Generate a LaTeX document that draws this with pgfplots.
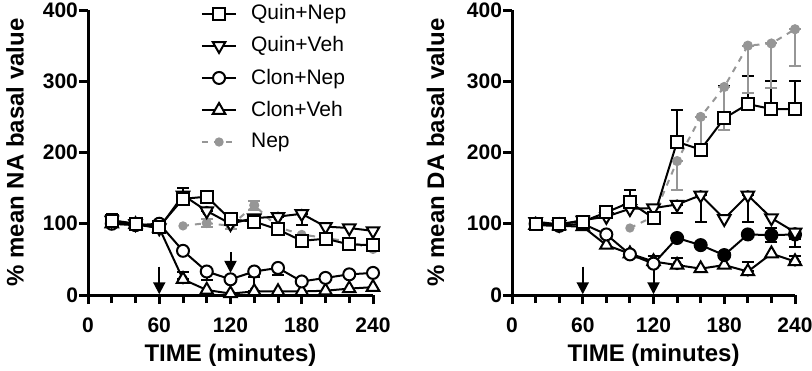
\documentclass[border=0pt]{standalone}
\usepackage{fontspec}
\setmainfont{Liberation Sans}
\usepackage{pgfplots}
\usepackage{pgfplotstable}
\pgfplotsset{compat=1.18}
\usetikzlibrary{arrows.meta}
\definecolor{nepgray}{RGB}{150,150,150}

% ---------- left panel (NA) ----------
\pgfplotstableread{
x y
20 104
40 100
60 96
80 135
100 138
120 106
140 103
160 92
180 76
200 79
220 71
240 70
}\LQN
\pgfplotstableread{
x y ep em
20 104 10 0
80 135 15 0
100 138 5 0
}\LQNe
\pgfplotstableread{
x y
20 105
40 100
60 94
80 140
100 118
120 100
140 108
160 110
180 114
200 96
220 94
240 90
}\LQV
\pgfplotstableread{
x y ep em
100 118 0 12
160 110 0 10
180 114 0 16
}\LQVe
\pgfplotstableread{
x y
20 100
40 98
60 100
80 62
100 33
120 22
140 33
160 38
180 19
200 24
220 29
240 31
}\LCN
\pgfplotstableread{
x y ep em
100 33 0 12
160 38 0 10
}\LCNe
\pgfplotstableread{
x y
20 100
40 99
60 94
80 22
100 7
120 2
140 5
160 5
180 5
200 6
220 9
240 11
}\LCV
\pgfplotstableread{
x y ep em
80 22 10 0
140 5 20 0
}\LCVe
\pgfplotstableread{
x y
80 97
100 101
120 97
140 126
160 95
180 85
200 80
220 75
240 64
}\LNep
\pgfplotstableread{
x y ep em
100 101 6 6
120 97 5 5
140 126 6 6
}\LNepe

% ---------- right panel (DA) ----------
\pgfplotstableread{
x y
20 100
40 100
60 103
80 116
100 130
120 108
140 215
160 204
180 248
200 268
220 261
240 261
}\RQN
\pgfplotstableread{
x y ep em
100 130 18 0
140 215 45 0
180 248 45 0
200 268 39 0
220 261 39 0
240 261 40 0
}\RQNe
\pgfplotstableread{
x y
20 103
40 99
60 105
80 110
100 121
120 122
140 127
160 140
180 107
200 140
220 108
240 88
}\RQV
\pgfplotstableread{
x y ep em
140 127 0 12
160 140 0 37
200 140 0 37
240 88 0 10
}\RQVe
\pgfplotstableread{
x y
20 100
40 97
60 100
80 85
100 57
120 44
140 80
160 70
180 56
200 85
220 84
240 85
}\RCN
\pgfplotstableread{
x y
140 80
160 70
180 56
200 85
220 84
240 85
}\RCNf
\pgfplotstableread{
x y ep em
220 84 10 10
240 85 0 18
}\RCNe
\pgfplotstableread{
x y
20 98
40 97
60 96
80 70
100 58
120 47
140 42
160 37
180 42
200 33
220 58
240 47
}\RCV
\pgfplotstableread{
x y ep em
120 47 8 0
140 42 10 0
200 33 14 0
240 47 8 0
}\RCVe
\pgfplotstableread{
x y
100 94
120 110
140 188
160 250
180 292
200 350
220 353
240 373
}\RNep
\pgfplotstableread{
x y ep em
140 188 0 40
160 250 0 42
180 292 0 60
200 350 0 66
220 353 0 62
240 373 0 52
}\RNepe

\newcommand{\labfont}{\fontsize{12}{14}\selectfont\bfseries}
\pgfplotsset{
 gp/.style={
  scale only axis, height=142.5pt,
  xmin=0,xmax=240,ymin=0,ymax=400,
  axis lines=left, axis line style={line width=1.5pt,-},
  xtick={0,60,120,180,240}, minor xtick={20,40,80,100,140,160,200,220},
  ytick={0,100,200,300,400},
  tick align=outside, major tick length=4.5pt, minor tick length=4pt,
  every tick/.style={line width=1.5pt, black},
  tick label style={font=\fontsize{10.5}{12}\selectfont\bfseries},
  xticklabel style={yshift=-3.5pt},
  yticklabel style={xshift=3pt},
  /pgf/number format/assume math mode=true,
  clip=false,
 },
 qn/.style={black,line width=1pt,mark=square*,mark size=3pt,mark options={fill=white,solid}},
 qv/.style={black,line width=1pt,mark=triangle*,mark size=3.6pt,mark options={fill=white,solid,rotate=180}},
 cn/.style={black,line width=1pt,mark=*,mark size=3pt,mark options={fill=white,solid}},
 cv/.style={black,line width=1pt,mark=triangle*,mark size=3.6pt,mark options={fill=white,solid}},
 nep/.style={nepgray,line width=1pt,dashed,mark=*,mark size=1.8pt,mark options={fill=nepgray,solid}},
 eb/.style={only marks, mark=none, line width=1pt, forget plot,
   error bars/.cd, y dir=both, y explicit,
   error bar style={line width=1pt,solid},
   error mark options={rotate=90,mark size=3pt,line width=1pt,solid}},
}

\begin{document}
\begin{tikzpicture}
\useasboundingbox (0,0) rectangle (406pt,185pt);

\begin{axis}[gp, at={(44pt,37.5pt)}, anchor=south west, width=142.5pt,
  legend style={draw=none, fill=none, font=\fontsize{10.5}{12}\selectfont,
    at={(axis description cs:0.395,1.035)}, anchor=north west,
    row sep=3pt, column sep=5pt, inner sep=0pt},
  legend cell align=left, reverse legend]
\addplot[black,eb] table[x=x,y=y,y error plus=ep,y error minus=em] {\LQNe};
\addplot[black,eb] table[x=x,y=y,y error plus=ep,y error minus=em] {\LQVe};
\addplot[black,eb] table[x=x,y=y,y error plus=ep,y error minus=em] {\LCNe};
\addplot[black,eb] table[x=x,y=y,y error plus=ep,y error minus=em] {\LCVe};
\addplot[nepgray,eb] table[x=x,y=y,y error plus=ep,y error minus=em] {\LNepe};
\addplot[nep] table[x=x,y=y] {\LNep};
\addlegendentry{Nep}
\addplot[cv] table[x=x,y=y] {\LCV};
\addlegendentry{Clon+Veh}
\addplot[cn] table[x=x,y=y] {\LCN};
\addlegendentry{Clon+Nep}
\addplot[qv] table[x=x,y=y] {\LQV};
\addlegendentry{Quin+Veh}
\addplot[qn] table[x=x,y=y] {\LQN};
\addlegendentry{Quin+Nep}
\draw[line width=1pt,-{Triangle[length=6pt,width=6pt]}] (axis cs:60,40) -- (axis cs:60,1);
\draw[line width=1pt,-{Triangle[length=6pt,width=6pt]}] (axis cs:120,60) -- (axis cs:120,31);
\node[font=\labfont,rotate=90,anchor=center] at (axis description cs:-0.256,0.5) {\% mean NA basal value};
\node[font=\labfont,anchor=center] at (axis description cs:0.5,-0.21) {TIME (minutes)};
\end{axis}

\begin{axis}[gp, at={(256pt,37.5pt)}, anchor=south west, width=141.5pt]
\addplot[black,eb] table[x=x,y=y,y error plus=ep,y error minus=em] {\RQNe};
\addplot[black,eb] table[x=x,y=y,y error plus=ep,y error minus=em] {\RQVe};
\addplot[black,eb] table[x=x,y=y,y error plus=ep,y error minus=em] {\RCNe};
\addplot[black,eb] table[x=x,y=y,y error plus=ep,y error minus=em] {\RCVe};
\addplot[nepgray,eb] table[x=x,y=y,y error plus=ep,y error minus=em] {\RNepe};
\addplot[nep,forget plot] table[x=x,y=y] {\RNep};
\addplot[cv,forget plot] table[x=x,y=y] {\RCV};
\addplot[cn,forget plot] table[x=x,y=y] {\RCN};
\addplot[only marks,mark=*,mark size=3pt,black,forget plot] table[x=x,y=y] {\RCNf};
\addplot[qv,forget plot] table[x=x,y=y] {\RQV};
\addplot[qn,forget plot] table[x=x,y=y] {\RQN};
\draw[line width=1pt,-{Triangle[length=6pt,width=6pt]}] (axis cs:60,40) -- (axis cs:60,1);
\draw[line width=1pt,-{Triangle[length=6pt,width=6pt]}] (axis cs:120,35) -- (axis cs:120,1);
\node[font=\labfont,rotate=90,anchor=center] at (axis description cs:-0.27,0.5) {\% mean DA basal value};
\node[font=\labfont,anchor=center] at (axis description cs:0.5,-0.21) {TIME (minutes)};
\end{axis}
\end{tikzpicture}
\end{document}
